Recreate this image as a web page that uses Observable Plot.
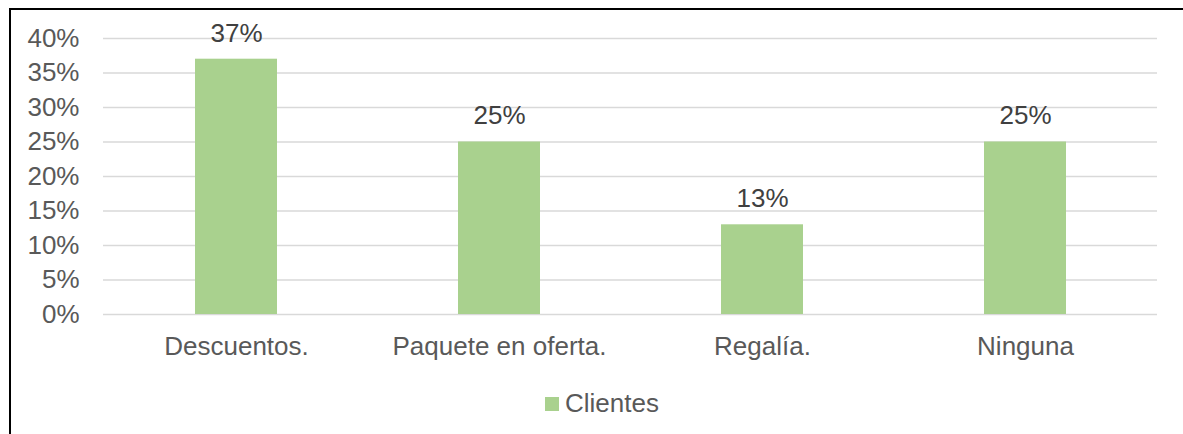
<!DOCTYPE html>
<html>
<head>
<meta charset="utf-8">
<script src="https://cdn.jsdelivr.net/npm/d3@7"></script>
<script src="https://cdn.jsdelivr.net/npm/@observablehq/plot@0.6"></script>
<style>
  html, body { margin: 0; padding: 0; background: #fff; overflow: hidden; width: 1183px; height: 434px; }
  #wrap { position: relative; width: 1183px; height: 434px; overflow: hidden; font-family: "Liberation Sans", Arial, sans-serif; }
  #frame { position: absolute; left: 9px; top: 8px; width: 1400px; height: 600px; border-left: 2px solid #000; border-top: 2px solid #000; box-sizing: border-box; }
  #chart { position: absolute; left: 0; top: 0; }
  #legend { position: absolute; left: 545px; top: 388px; display: flex; align-items: center; font-size: 26px; color: #595959; }
  #legend .sw { width: 14px; height: 14px; background: #A9D18E; margin-right: 6px; }
</style>
</head>
<body>
<div id="wrap">
  <div id="frame"></div>
  <div id="chart"></div>
  <div id="legend"><span class="sw"></span><span>Clientes</span></div>
</div>
<script>
const categories = ["Descuentos.", "Paquete en oferta.", "Regalía.", "Ninguna"];
const clientes = [0.37, 0.25, 0.13, 0.25];
const yTicks = [0, 0.05, 0.10, 0.15, 0.20, 0.25, 0.30, 0.35, 0.40];
const seriesName = "Clientes";

const data = categories.map((c, i) => ({category: c, value: clientes[i]}));
const pct = d3.format(".0%");

const plot = Plot.plot({
  width: 1183,
  height: 372,
  marginLeft: 103,
  marginRight: 26,
  marginTop: 38,
  marginBottom: 58,
  style: {fontFamily: "'Liberation Sans', Arial, sans-serif", fontSize: "26px", color: "#595959", background: "transparent"},
  x: {domain: categories, paddingInner: 0.69, paddingOuter: 0.345, label: null},
  y: {domain: [0, 0.4], label: null},
  marks: [
    Plot.gridY(yTicks, {stroke: "#D9D9D9", strokeOpacity: 1, strokeWidth: 1.5}),
    Plot.barY(data, {x: "category", y: "value", fill: "#A9D18E"}),
    Plot.axisY(yTicks, {tickSize: 0, tickPadding: 24, tickFormat: pct, fontSize: 26, fill: "#595959", label: null}),
    Plot.axisX({tickSize: 0, tickPadding: 22, fontSize: 26, fill: "#595959", label: null}),
    Plot.text(data, {x: "category", y: "value", text: d => pct(d.value), dy: -26, fontSize: 26, fill: "#404040", textAnchor: "middle", lineAnchor: "middle"})
  ]
});
document.getElementById("chart").appendChild(plot);
document.querySelector("#legend span:last-child").textContent = seriesName;
</script>
</body>
</html>
